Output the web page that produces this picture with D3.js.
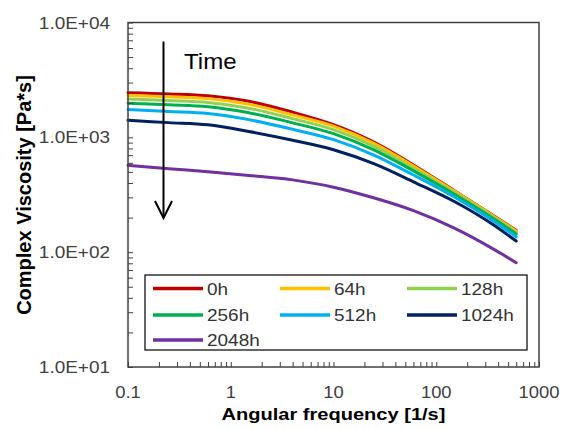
<!DOCTYPE html>
<html>
<head>
<meta charset="utf-8">
<script src="https://cdn.jsdelivr.net/npm/d3@7"></script>
<style>
  html, body { margin: 0; padding: 0; background: #fff; }
  svg { display: block; font-family: "Liberation Sans", Arial, sans-serif; }
</style>
</head>
<body>
<svg id="chart" width="563" height="429"></svg>
<script>
// Angular frequency points [1/s]
const frequency = [0.1, 0.25, 0.6, 1.5, 4, 10, 25, 60, 150, 350, 600];

// Complex viscosity [Pa*s] after each ageing time
const seriesNames = ["0h", "64h", "128h", "256h", "512h", "1024h", "2048h"];
const seriesColors = ["#c00000", "#ffc000", "#92d050", "#00b050", "#00b0f0", "#002060", "#7030a0"];
const visc0h    = [2450, 2390, 2300, 2060, 1655, 1290, 905, 575, 343, 212, 155];
const visc64h   = [2317, 2254, 2173, 1941, 1567, 1250, 882, 563, 340, 210, 153];
const visc128h  = [2158, 2089, 2014, 1795, 1455, 1166, 830, 538, 330, 205, 148];
const visc256h  = [1982, 1919, 1845, 1637, 1337, 1076, 774, 510, 319, 199, 144];
const visc512h  = [1746, 1679, 1614, 1426, 1175, 955, 698, 470, 302, 190, 136];
const visc1024h = [1406, 1343, 1285, 1125, 944, 780, 587, 410, 276, 176, 125];
const visc2048h = [571, 533, 502, 466, 426, 368, 296, 230, 162, 108, 81];
const seriesValues = [visc0h, visc64h, visc128h, visc256h, visc512h, visc1024h, visc2048h];

// Axis tick labels
const xTickValues = [0.1, 1, 10, 100, 1000];
const xTickLabels = ["0.1", "1", "10", "100", "1000"];
const yTickValues = [10, 100, 1000, 10000];
const yTickLabels = ["1.0E+01", "1.0E+02", "1.0E+03", "1.0E+04"];

const svg = d3.select("#chart");
const plot = { left: 128, right: 539, top: 22.5, bottom: 367 };
const stretch = 1.15;

const x = d3.scaleLog().domain([0.1, 1000]).range([plot.left, plot.right]);
const y = d3.scaleLog().domain([10, 10000]).range([plot.bottom, plot.top]);

// minor + major tick positions for each decade
function logTicks(lo, hi) {
  const out = [];
  for (let e = Math.round(Math.log10(lo)); e < Math.round(Math.log10(hi)); e++) {
    for (let m = 1; m <= 9; m++) out.push(m * Math.pow(10, e));
  }
  out.push(hi);
  return out;
}

function stretchedText(g, px, py, str, opts) {
  return g.append("g").attr("transform", `translate(${px},${py}) scale(${opts.sx || stretch},1)`)
    .append("text")
    .attr("x", 0).attr("y", 0)
    .attr("text-anchor", opts.anchor || "start")
    .attr("font-size", opts.size)
    .attr("font-weight", opts.weight || "normal")
    .attr("fill", opts.fill || "#000")
    .text(str);
}

// Series lines
const line = d3.line()
  .x(d => x(d[0]))
  .y(d => y(d[1]))
  .curve(d3.curveMonotoneX);

const linesG = svg.append("g");
seriesValues.forEach((vals, i) => {
  linesG.append("path")
    .datum(frequency.map((f, j) => [f, vals[j]]))
    .attr("d", line)
    .attr("fill", "none")
    .attr("stroke", seriesColors[i])
    .attr("stroke-width", 3)
    .attr("stroke-linejoin", "round")
    .attr("stroke-linecap", "round");
});

// Plot frame
svg.append("rect")
  .attr("x", plot.left).attr("y", plot.top)
  .attr("width", plot.right - plot.left).attr("height", plot.bottom - plot.top)
  .attr("fill", "none").attr("stroke", "#404040").attr("stroke-width", 1.5);

// Inward ticks
const xAxis = d3.axisTop(x).tickValues(logTicks(0.1, 1000)).tickSize(5).tickFormat("");
svg.append("g").attr("transform", `translate(0,${plot.bottom})`).call(xAxis)
  .call(g => g.select(".domain").remove())
  .call(g => g.selectAll("line").attr("stroke", "#404040"));

const yAxis = d3.axisRight(y).tickValues(logTicks(10, 10000)).tickSize(5).tickFormat("");
svg.append("g").attr("transform", `translate(${plot.left},0)`).call(yAxis)
  .call(g => g.select(".domain").remove())
  .call(g => g.selectAll("line").attr("stroke", "#404040"));

// Tick labels
const labelsG = svg.append("g");
xTickValues.forEach((v, i) => {
  stretchedText(labelsG, x(v), 398, xTickLabels[i], { size: 16, anchor: "middle", fill: "#404040" });
});
yTickValues.forEach((v, i) => {
  stretchedText(labelsG, 110, y(v) + 6, yTickLabels[i], { size: 16.5, anchor: "end", fill: "#404040" });
});

// Axis titles
stretchedText(svg, (plot.left + plot.right) / 2, 420, "Angular frequency [1/s]",
  { size: 17, anchor: "middle", weight: "bold", sx: 1.18 });
svg.append("text")
  .attr("transform", `translate(31,${(73 + 317) / 2}) rotate(-90)`)
  .attr("text-anchor", "middle")
  .attr("font-size", 20)
  .attr("font-weight", "bold")
  .attr("fill", "#000")
  .text("Complex Viscosity [Pa*s]");

// Time arrow
const arrowX = 163.5;
svg.append("line")
  .attr("x1", arrowX).attr("x2", arrowX).attr("y1", 41.5).attr("y2", 217.5)
  .attr("stroke", "#000").attr("stroke-width", 2);
svg.append("path")
  .attr("d", `M${arrowX - 8.5},${201} L${arrowX},${218} L${arrowX + 8.5},${201}`)
  .attr("fill", "none").attr("stroke", "#000").attr("stroke-width", 2);
stretchedText(svg, 184, 69, "Time", { size: 21.5, fill: "#000", sx: 1.12 });

// Legend
const legend = { left: 145, top: 275, right: 527, bottom: 350 };
svg.append("rect")
  .attr("x", legend.left).attr("y", legend.top)
  .attr("width", legend.right - legend.left).attr("height", legend.bottom - legend.top)
  .attr("fill", "#fff").attr("stroke", "#000").attr("stroke-width", 1.2);

const colX = [153, 280, 407];
const rowY = [288.5, 315, 340];
seriesNames.forEach((name, i) => {
  const cx = colX[i % 3];
  const cy = rowY[Math.floor(i / 3)];
  svg.append("line")
    .attr("x1", cx).attr("x2", cx + 50).attr("y1", cy).attr("y2", cy)
    .attr("stroke", seriesColors[i]).attr("stroke-width", 3.5);
  stretchedText(svg, cx + 54, cy + 6, name, { size: 16.5, fill: "#333" });
});
</script>
</body>
</html>
